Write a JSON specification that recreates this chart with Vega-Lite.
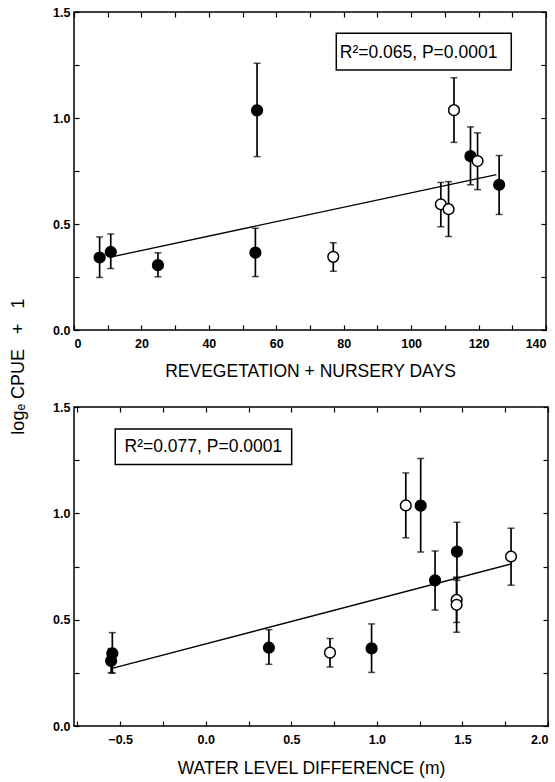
{
  "$schema": "https://vega.github.io/schema/vega-lite/v6.json",
  "background": "white",
  "padding": {"left": 8, "top": 5, "right": 0, "bottom": 0},
  "config": {
    "view": {"stroke": "black", "strokeWidth": 1.5},
    "axis": {"grid": false, "domain": false, "tickColor": "black", "tickWidth": 1.2, "labelColor": "black", "titleColor": "black", "labelFont": "Liberation Sans", "labelFontWeight": "bold", "labelFontSize": 12.5, "titleFont": "Liberation Sans", "titleFontWeight": "normal", "titleFontSize": 17.5}
  },
  "datasets": {
    "sites": [
      {"days": 7.6, "wld": -0.546, "y": 0.342, "lo": 0.248, "hi": 0.439, "type": "filled"},
      {"days": 10.9, "wld": 0.369, "y": 0.368, "lo": 0.29, "hi": 0.453, "type": "filled"},
      {"days": 24.9, "wld": -0.553, "y": 0.306, "lo": 0.251, "hi": 0.364, "type": "filled"},
      {"days": 54.3, "wld": 1.256, "y": 1.036, "lo": 0.818, "hi": 1.258, "type": "filled"},
      {"days": 53.8, "wld": 0.969, "y": 0.365, "lo": 0.252, "hi": 0.48, "type": "filled"},
      {"days": 76.9, "wld": 0.726, "y": 0.345, "lo": 0.277, "hi": 0.412, "type": "open"},
      {"days": 108.8, "wld": 1.466, "y": 0.593, "lo": 0.487, "hi": 0.696, "type": "open"},
      {"days": 111.1, "wld": 1.466, "y": 0.57, "lo": 0.441, "hi": 0.7, "type": "open"},
      {"days": 112.7, "wld": 1.169, "y": 1.037, "lo": 0.885, "hi": 1.19, "type": "open"},
      {"days": 117.6, "wld": 1.468, "y": 0.82, "lo": 0.685, "hi": 0.958, "type": "filled"},
      {"days": 119.7, "wld": 1.784, "y": 0.797, "lo": 0.662, "hi": 0.93, "type": "open"},
      {"days": 126.1, "wld": 1.34, "y": 0.685, "lo": 0.545, "hi": 0.823, "type": "filled"}
    ],
    "fit1": [{"x": 11.2, "y": 0.345}, {"x": 125.3, "y": 0.733}],
    "fit2": [{"x": -0.542, "y": 0.272}, {"x": 1.784, "y": 0.762}]
  },
  "vconcat": [
    {
      "width": 472,
      "height": 318,
      "data": {"name": "sites"},
      "layer": [
        {
          "data": {"values": [{}]},
          "mark": {"type": "rect", "fill": "white", "stroke": "black", "strokeWidth": 1.5},
          "encoding": {
            "x": {"datum": 77.8, "type": "quantitative", "scale": {"domain": [0, 140], "nice": false, "zero": false, "padding": 0}, "axis": null},
            "x2": {"datum": 129.7},
            "y": {"datum": 1.4, "type": "quantitative", "scale": {"domain": [0, 1.5], "nice": false, "zero": false, "padding": 0}, "axis": null},
            "y2": {"datum": 1.226}
          }
        },
        {
          "data": {"values": [{}]},
          "mark": {"type": "text", "text": "R²=0.065, P=0.0001", "font": "Liberation Sans", "fontSize": 17.5, "color": "black", "align": "center", "baseline": "middle"},
          "encoding": {
            "x": {"datum": 102.2, "type": "quantitative", "axis": null},
            "y": {"datum": 1.307, "type": "quantitative", "axis": null}
          }
        },
        {
          "data": {"name": "fit1"},
          "mark": {"type": "line", "color": "black", "strokeWidth": 1.3},
          "encoding": {
            "x": {"field": "x", "type": "quantitative", "axis": {"orient": "top", "labels": false, "title": null, "values": [0,10,20,30,40,50,60,70,80,90,100,110,120,130,140], "tickSize": -5}},
            "y": {"field": "y", "type": "quantitative", "axis": {"orient": "right", "labels": false, "title": null, "values": [0,0.25,0.5,0.75,1,1.25,1.5], "tickSize": -5}}
          }
        },
        {
          "mark": {"type": "rule", "color": "black", "strokeWidth": 1.7},
          "encoding": {
            "x": {"field": "days", "type": "quantitative", "axis": null},
            "y": {"field": "lo", "type": "quantitative", "axis": null},
            "y2": {"field": "hi"}
          }
        },
        {
          "mark": {"type": "tick", "orient": "horizontal", "color": "black", "size": 7, "thickness": 1.5},
          "encoding": {
            "x": {"field": "days", "type": "quantitative", "axis": null},
            "y": {"field": "lo", "type": "quantitative", "axis": null}
          }
        },
        {
          "mark": {"type": "tick", "orient": "horizontal", "color": "black", "size": 7, "thickness": 1.5},
          "encoding": {
            "x": {"field": "days", "type": "quantitative", "axis": null},
            "y": {"field": "hi", "type": "quantitative", "axis": null}
          }
        },
        {
          "mark": {"type": "point", "shape": "circle", "filled": true, "stroke": "black", "strokeWidth": 1.5, "size": 115, "opacity": 1},
          "encoding": {
            "x": {"field": "days", "type": "quantitative", "axis": {"orient": "bottom", "values": [0,10,20,30,40,50,60,70,80,90,100,110,120,130,140], "labelExpr": "datum.value % 20 == 0 ? datum.label : ''", "format": "d", "tickSize": -5, "labelPadding": 12, "title": "REVEGETATION + NURSERY DAYS", "titlePadding": 13}},
            "y": {"field": "y", "type": "quantitative", "axis": {"orient": "left", "values": [0,0.25,0.5,0.75,1,1.25,1.5], "labelExpr": "(datum.value * 2) % 1 == 0 ? format(datum.value, '.1f') : ''", "tickSize": -5, "labelPadding": 9, "title": "logₑ CPUE\u00a0\u00a0 +\u00a0\u00a0 1", "titleFontSize": 18, "titleX": -56, "titleY": 354, "titleAngle": -90, "titleAlign": "center", "titleBaseline": "middle"}},
            "fill": {"field": "type", "type": "nominal", "scale": {"domain": ["filled", "open"], "range": ["black", "white"]}, "legend": null}
          }
        }
      ],
      "resolve": {"axis": {"x": "independent", "y": "independent"}}
    },
    {
      "width": 474,
      "height": 319,
      "data": {"name": "sites"},
      "layer": [
        {
          "data": {"values": [{}]},
          "mark": {"type": "rect", "fill": "white", "stroke": "black", "strokeWidth": 1.5},
          "encoding": {
            "x": {"datum": -0.529, "type": "quantitative", "scale": {"domain": [-0.77, 2.0], "nice": false, "zero": false, "padding": 0}, "axis": null},
            "x2": {"datum": 0.502},
            "y": {"datum": 1.397, "type": "quantitative", "scale": {"domain": [0, 1.5], "nice": false, "zero": false, "padding": 0}, "axis": null},
            "y2": {"datum": 1.23}
          }
        },
        {
          "data": {"values": [{}]},
          "mark": {"type": "text", "text": "R²=0.077, P=0.0001", "font": "Liberation Sans", "fontSize": 17.5, "color": "black", "align": "center", "baseline": "middle"},
          "encoding": {
            "x": {"datum": -0.014, "type": "quantitative", "axis": null},
            "y": {"datum": 1.31, "type": "quantitative", "axis": null}
          }
        },
        {
          "data": {"name": "fit2"},
          "mark": {"type": "line", "color": "black", "strokeWidth": 1.3},
          "encoding": {
            "x": {"field": "x", "type": "quantitative", "axis": {"orient": "top", "labels": false, "title": null, "values": [-0.75,-0.5,-0.25,0,0.25,0.5,0.75,1,1.25,1.5,1.75,2], "tickSize": -5}},
            "y": {"field": "y", "type": "quantitative", "axis": {"orient": "right", "labels": false, "title": null, "values": [0,0.25,0.5,0.75,1,1.25,1.5], "tickSize": -5}}
          }
        },
        {
          "mark": {"type": "rule", "color": "black", "strokeWidth": 1.7},
          "encoding": {
            "x": {"field": "wld", "type": "quantitative", "axis": null},
            "y": {"field": "lo", "type": "quantitative", "axis": null},
            "y2": {"field": "hi"}
          }
        },
        {
          "mark": {"type": "tick", "orient": "horizontal", "color": "black", "size": 7, "thickness": 1.5},
          "encoding": {
            "x": {"field": "wld", "type": "quantitative", "axis": null},
            "y": {"field": "lo", "type": "quantitative", "axis": null}
          }
        },
        {
          "mark": {"type": "tick", "orient": "horizontal", "color": "black", "size": 7, "thickness": 1.5},
          "encoding": {
            "x": {"field": "wld", "type": "quantitative", "axis": null},
            "y": {"field": "hi", "type": "quantitative", "axis": null}
          }
        },
        {
          "mark": {"type": "point", "shape": "circle", "filled": true, "stroke": "black", "strokeWidth": 1.5, "size": 115, "opacity": 1},
          "encoding": {
            "x": {"field": "wld", "type": "quantitative", "axis": {"orient": "bottom", "values": [-0.75,-0.5,-0.25,0,0.25,0.5,0.75,1,1.25,1.5,1.75,2], "labelExpr": "(datum.value * 2) % 1 == 0 ? format(datum.value, '.1f') : ''", "tickSize": -5, "labelPadding": 12, "title": "WATER LEVEL DIFFERENCE (m)", "titlePadding": 14}},
            "y": {"field": "y", "type": "quantitative", "axis": {"orient": "left", "values": [0,0.25,0.5,0.75,1,1.25,1.5], "labelExpr": "(datum.value * 2) % 1 == 0 ? format(datum.value, '.1f') : ''", "tickSize": -5, "labelPadding": 9, "title": null}},
            "fill": {"field": "type", "type": "nominal", "scale": {"domain": ["filled", "open"], "range": ["black", "white"]}, "legend": null}
          }
        }
      ],
      "resolve": {"axis": {"x": "independent", "y": "independent"}}
    }
  ],
  "spacing": 77,
  "bounds": "flush"
}
